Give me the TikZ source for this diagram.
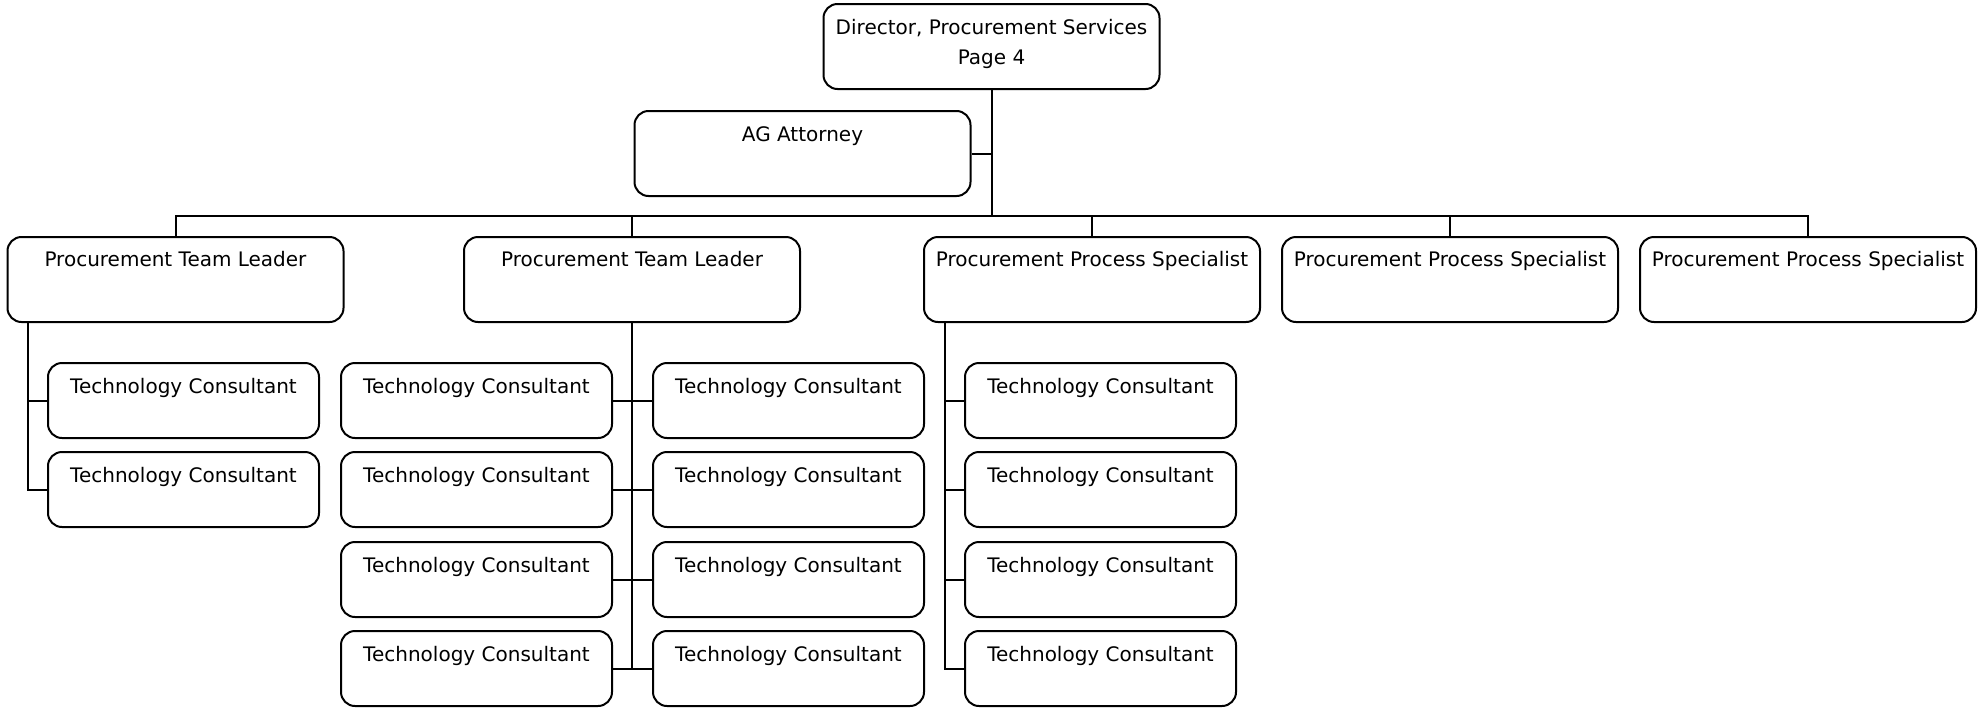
\documentclass[tikz,border=0pt]{standalone}
\usepackage{fontspec}
\setmainfont{DejaVu Sans}
\begin{document}
\begin{tikzpicture}[x=0.5pt,y=-0.5pt,
  every node/.style={font=\fontsize{10pt}{14pt}\selectfont, inner sep=0pt},
  box/.style={draw, line width=1pt, rounded corners=7pt},
  lvl/.style={box, minimum width=168pt, text height=14.5pt, text depth=28pt},
  tcbox/.style={box, minimum width=135.5pt, text height=15pt, text depth=22.5pt},
  link/.style={line width=1pt}]
\useasboundingbox (0,0) rectangle (1984,707);

% top of the chart
\node[box, minimum width=168pt, minimum height=42.5pt] (dir) at (991.5,46.5) {};
\node[anchor=north, align=center, font=\fontsize{10pt}{15.2pt}\selectfont] (dirtext) at (991.5,19) {Director, Procurement Services\\Page 4};
\node[box, minimum width=168pt, text height=15pt, text depth=27.5pt] (ag) at (802.5,153.5) {AG Attorney};

% second level
\node[lvl] (b1) at (175.5,279.5) {Procurement Team Leader};
\node[lvl] (b2) at (632,279.5) {Procurement Team Leader};
\node[lvl] (b3) at (1092,279.5) {Procurement Process Specialist};
\node[lvl] (b4) at (1450,279.5) {Procurement Process Specialist};
\node[lvl] (b5) at (1808,279.5) {Procurement Process Specialist};

% consultants under the first team leader
\node[tcbox] (a1) at (183.5,400.5) {Technology Consultant};
\node[tcbox] (a2) at (183.5,489.5) {Technology Consultant};

% consultants under the second team leader
\foreach \r/\y in {1/400.5,2/489.5,3/579.5,4/668.5}{
  \node[tcbox] (bl\r) at (476.5,\y) {Technology Consultant};
  \node[tcbox] (br\r) at (788.5,\y) {Technology Consultant};
}

% consultants under the first process specialist
\foreach \r/\y in {1/400.5,2/489.5,3/579.5,4/668.5}{
  \node[tcbox] (c\r) at (1100.5,\y) {Technology Consultant};
}

% reporting lines
\coordinate (bus) at (0,216);
\coordinate (sa) at (28,322);
\coordinate (sc) at (945,322);
\draw[link] (dir.south) -- (dir.south |- bus);
\draw[link] (ag.east) -- (ag.east -| dir.south);
\draw[link] (b1.north) -- (b1.north |- bus) -- (b5.north |- bus) -- (b5.north);
\foreach \b in {b2,b3,b4}{
  \draw[link] (\b.north) -- (\b.north |- bus);
}
\draw[link] (sa) |- (a2.west);
\draw[link] (a1.west) -- (a1.west -| sa);
\draw[link] (b2.south) -- (b2.south |- br4.west);
\foreach \r in {1,2,3,4}{
  \draw[link] (bl\r.east) -- (br\r.west);
}
\draw[link] (sc) |- (c4.west);
\foreach \r in {1,2,3}{
  \draw[link] (c\r.west) -- (c\r.west -| sc);
}
\end{tikzpicture}
\end{document}
